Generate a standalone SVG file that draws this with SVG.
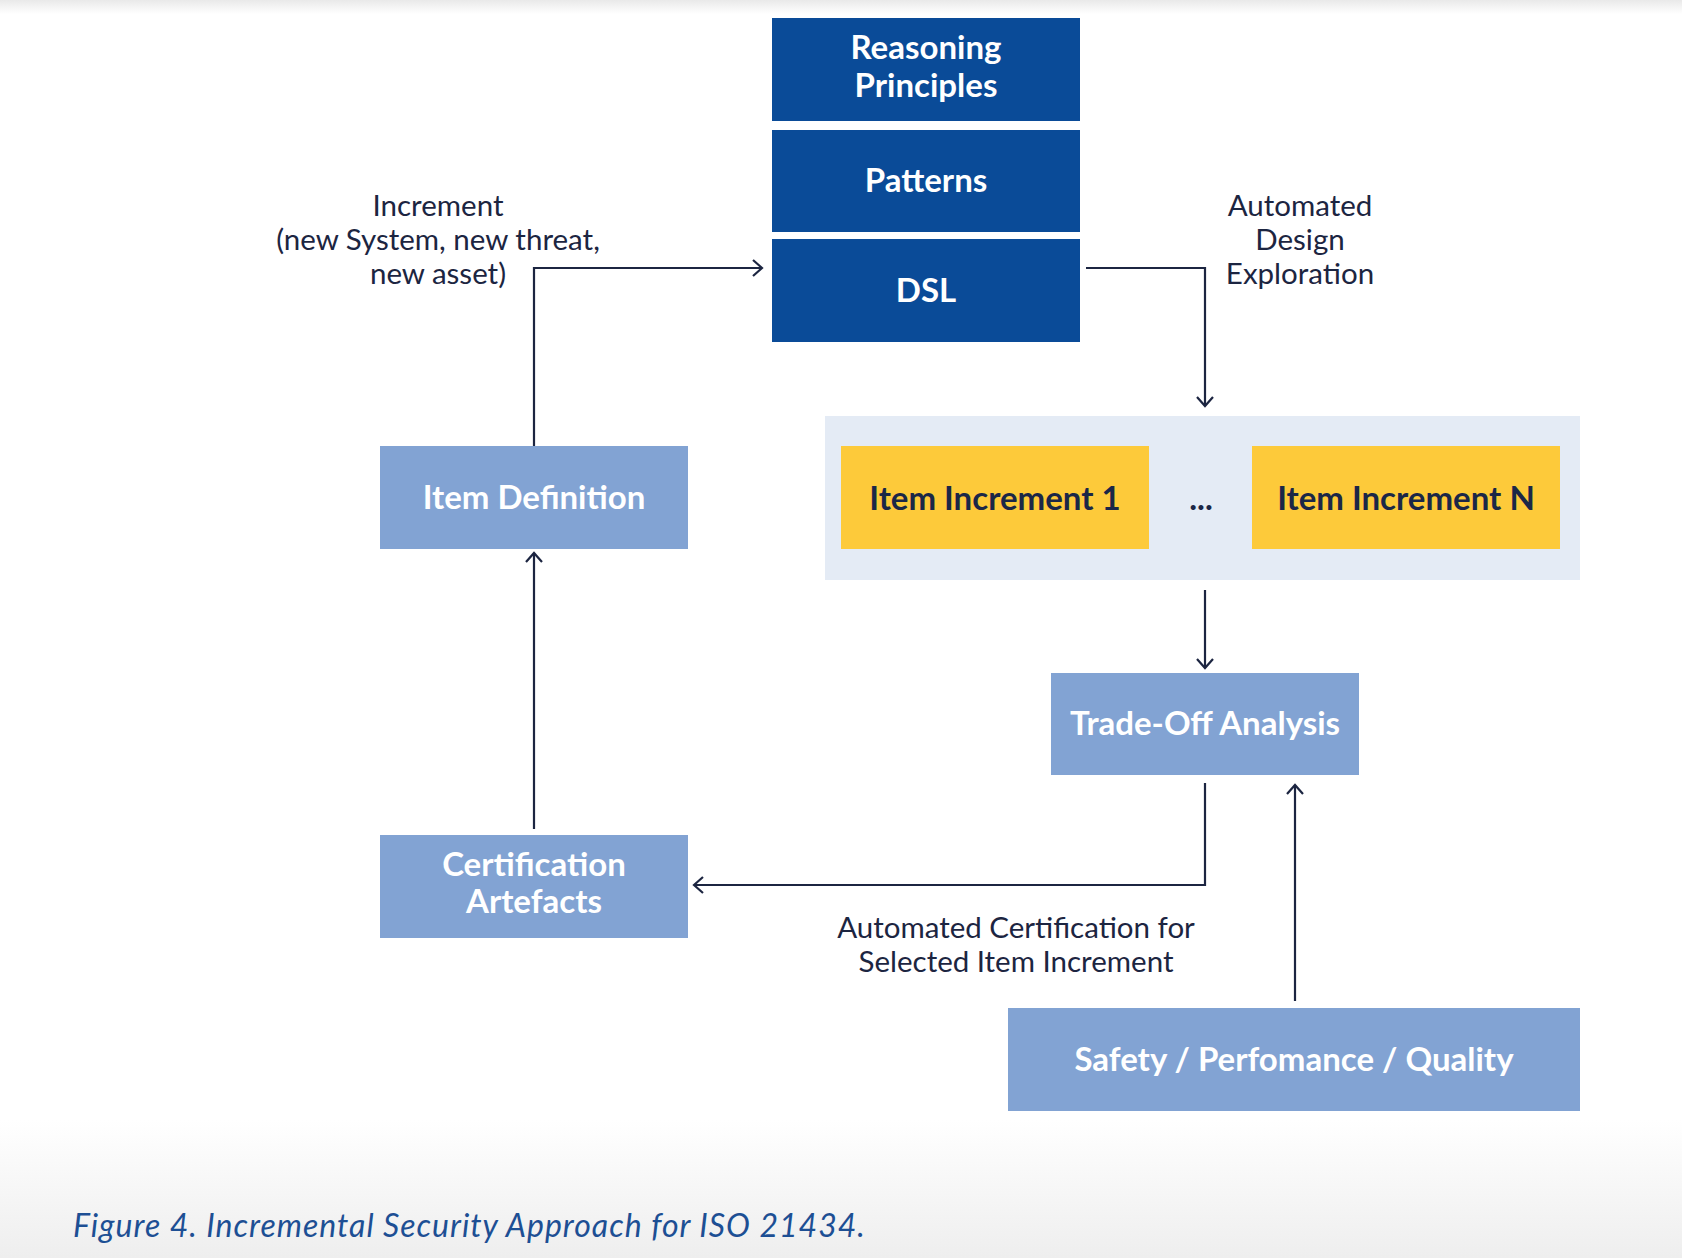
<svg xmlns="http://www.w3.org/2000/svg" width="1682" height="1258" viewBox="0 0 1682 1258">
<style>
.dark{fill:#0a4b98}
.light{fill:#82a3d3}
.yellow{fill:#fdca3a}
.cont{fill:#e4ebf5}
.bw{font-family:Lato,"Liberation Sans",sans-serif;font-weight:700;font-size:33px;fill:#ffffff;text-anchor:middle}
.bd{font-family:Lato,"Liberation Sans",sans-serif;font-weight:700;font-size:33px;fill:#1b2747;text-anchor:middle}
.lab{font-family:Lato,"Liberation Sans",sans-serif;font-weight:400;font-size:29.5px;fill:#1c2541;text-anchor:middle}
.cap{font-family:Lato,"Liberation Sans",sans-serif;font-style:italic;font-size:32px;letter-spacing:1px;fill:#1d4f94}
.con{fill:none;stroke:#1c2541;stroke-width:2.2}
</style>
<defs>
<marker id="arr" markerUnits="userSpaceOnUse" markerWidth="24" markerHeight="24" viewBox="-12 -12 24 24" refX="0" refY="0" orient="auto">
<path d="M-9,-8 L0,0 L-9,8" fill="none" stroke="#1c2541" stroke-width="2.2"/>
</marker>
<linearGradient id="topg" x1="0" y1="0" x2="0" y2="1">
<stop offset="0" stop-color="#e9e9e9"/>
<stop offset="1" stop-color="#ffffff"/>
</linearGradient>
<linearGradient id="botg" x1="0" y1="0" x2="0" y2="1">
<stop offset="0" stop-color="#ffffff"/>
<stop offset="1" stop-color="#eeeeee"/>
</linearGradient>
</defs>
<rect x="0" y="0" width="1682" height="1258" fill="#ffffff"/>
<rect x="0" y="0" width="1682" height="14" fill="url(#topg)"/>
<rect x="0" y="1120" width="1682" height="138" fill="url(#botg)"/>

<g id="connectors">
<path class="con" d="M534,446 V268 H762" marker-end="url(#arr)"/>
<path class="con" d="M1086,268 H1205 V406" marker-end="url(#arr)"/>
<path class="con" d="M1205,590 V668" marker-end="url(#arr)"/>
<path class="con" d="M1205,783 V885 H694" marker-end="url(#arr)"/>
<path class="con" d="M534,829 V553" marker-end="url(#arr)"/>
<path class="con" d="M1295,1001 V785" marker-end="url(#arr)"/>
</g>

<g id="reasoning-principles">
<rect class="dark" x="772" y="18" width="308" height="103"/>
<text class="bw" x="926" y="59">Reasoning</text>
<text class="bw" x="926" y="97">Principles</text>
</g>
<g id="patterns">
<rect class="dark" x="772" y="130" width="308" height="102"/>
<text class="bw" x="926" y="192">Patterns</text>
</g>
<g id="dsl">
<rect class="dark" x="772" y="239" width="308" height="103"/>
<text class="bw" x="926" y="302">DSL</text>
</g>
<g id="item-increments">
<rect class="cont" x="825" y="416" width="755" height="164"/>
<text class="bd" x="1201" y="510">...</text>
</g>
<g id="item-increment-1">
<rect class="yellow" x="841" y="446" width="308" height="103"/>
<text class="bd" x="995" y="510">Item Increment 1</text>
</g>
<g id="item-increment-n">
<rect class="yellow" x="1252" y="446" width="308" height="103"/>
<text class="bd" x="1406" y="510">Item Increment N</text>
</g>
<g id="item-definition">
<rect class="light" x="380" y="446" width="308" height="103"/>
<text class="bw" x="534" y="509">Item Definition</text>
</g>
<g id="trade-off-analysis">
<rect class="light" x="1051" y="673" width="308" height="102"/>
<text class="bw" x="1205" y="735">Trade-Off Analysis</text>
</g>
<g id="certification-artefacts">
<rect class="light" x="380" y="835" width="308" height="103"/>
<text class="bw" x="534" y="876">Certification</text>
<text class="bw" x="534" y="913">Artefacts</text>
</g>
<g id="safety-performance-quality">
<rect class="light" x="1008" y="1008" width="572" height="103"/>
<text class="bw" x="1294" y="1071">Safety / Perfomance / Quality</text>
</g>

<g id="labels">
<text class="lab" x="438" y="216">Increment</text>
<text class="lab" x="438" y="250">(new System, new threat,</text>
<text class="lab" x="438" y="284">new asset)</text>
<text class="lab" x="1300" y="216">Automated</text>
<text class="lab" x="1300" y="250">Design</text>
<text class="lab" x="1300" y="284">Exploration</text>
<text class="lab" x="1016" y="938">Automated Certification for</text>
<text class="lab" x="1016" y="972">Selected Item Increment</text>
</g>
<text class="cap" x="73" y="1237">Figure 4. Incremental Security Approach for ISO 21434.</text>
</svg>
